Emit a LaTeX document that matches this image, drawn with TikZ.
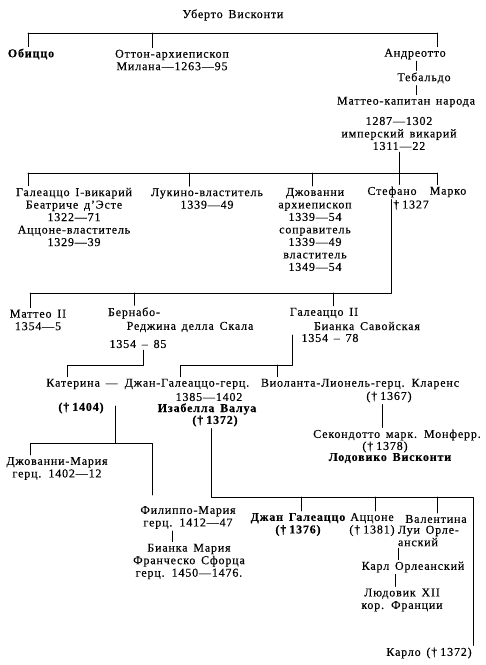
\documentclass[tikz,border=0pt]{standalone}
\usepackage{fontspec}
\setmainfont{Liberation Serif}[LetterSpace=7,WordSpace=1.5,FakeBold=0.3]
\newcommand{\died}{†\hspace{3pt}}
\tikzset{
  person/.style={inner sep=0pt,outer sep=2pt,align=center,font=\fontsize{12}{12.5}\selectfont},
  heir/.style={person,font=\fontsize{12}{12.5}\selectfont\bfseries},
}
\begin{document}
\begin{tikzpicture}[x=1pt,y=-1pt,line width=0.6pt,line cap=round,line join=round]
\useasboundingbox (0,0) rectangle (486,665);
\node[person] (uberto) at (233,15) {Уберто Висконти};
\node[heir] (obizzo) at (31,54) {Обиццо};
\node[person] (otton) at (172,60) {Оттон-архиепископ\\Милана—1263—95};
\node[person] (andreotto) at (415,54) {Андреотто};
\node[person] (tebaldo) at (424,78) {Тебальдо};
\node[person] (matteo) at (406,102) {Маттео-капитан народа};
\node[person] (matteod) at (399,133.5) {1287—1302\\имперский викарий\\1311—22};
\coordinate (b1l) at (28,33);
\coordinate (b1m) at (152,33);
\coordinate (b1r) at (437,33);
\draw (b1l) -- (b1r);
\foreach \b/\n in {b1l/obizzo,b1m/otton,b1r/andreotto}
  \draw (\b) -- (\b |- \n.north);
\draw ([xshift=-8pt]tebaldo.north) -- ([xshift=-8pt]tebaldo.north |- andreotto.south);
\draw ([xshift=-8pt]tebaldo.south) -- ([xshift=-8pt]tebaldo.south |- matteo.north);
\node[person] (galeazzo) at (74,217) {Галеаццо I-викарий\\Беатриче д'Эсте\\1322—71\\Аццоне-властитель\\1329—39};
\node[person] (luchino) at (207,198.5) {Лукино-властитель\\1339—49};
\node[person] (giovanni) at (315,229.5) {Джованни\\архиепископ\\1339—54\\соправитель\\1339—49\\властитель\\1349—54};
\node[person] (stefano) at (392,192) {Стефано};
\node[person] (stefanod) at (411,205) {\died1327};
\node[person] (marco) at (448,192) {Марко};
\coordinate (b2l) at (28,173);
\coordinate (b2lu) at (189,173);
\coordinate (b2g) at (312,173);
\coordinate (b2s) at (399,173);
\coordinate (b2r) at (437,173);
\draw (matteod.south -| b2s) -- (b2s);
\draw (b2l) -- (b2r);
\foreach \b/\n in {b2l/galeazzo,b2lu/luchino,b2g/giovanni,b2s/stefano,b2r/marco}
  \draw (\b) -- (\b |- \n.north);
\node[person] (matteo2) at (38,320) {Маттео II\\1354—5};
\node[person] (bernabo) at (134,313) {Бернабо-};
\node[person] (regina) at (190,327) {Реджина делла Скала};
\node[person] (bernabod) at (138,344) {1354 – 85};
\node[person] (galeazzo2) at (324,313) {Галеаццо II};
\node[person] (bianca) at (367,326) {Бианка Савойская};
\node[person] (galeazzo2d) at (330,338) {1354 – 78};
\coordinate (b3l) at (30,293);
\coordinate (b3b) at (134,293);
\coordinate (b3g) at (333,293);
\coordinate (b3r) at (391,293);
\draw (stefano.south -| b3r) -- (b3r) -- (b3l);
\foreach \b/\n in {b3l/matteo2,b3b/bernabo,b3g/galeazzo2}
  \draw (\b) -- (\b |- \n.north);
\node[person] (kat) at (82,384) {Катерина —};
\node[person] (gg) at (187,384) {Джан-Галеаццо-герц.};
\node[person] (ggd) at (209,397) {1385—1402};
\node[heir] (isabella) at (207,409) {Изабелла Валуа};
\node[heir] (isabellad) at (215,421) {(\died1372)};
\node[heir] (katd) at (81,408) {(\died1404)};
\node[person] (violanta) at (360,384) {Виоланта-Лионель-герц. Кларенс};
\node[person] (violantad) at (389,397) {(\died1367)};
\node[person] (secondotto) at (397,435) {Секондотто марк. Монферр.};
\node[person] (secondottod) at (385,447) {(\died1378)};
\node[heir] (lodovico) at (390,458) {Лодовико Висконти};
\coordinate (b4l) at (67,365);
\coordinate (b4r) at (143,365);
\coordinate (g2c) at (292,335);
\coordinate (b4m) at (292,365);
\coordinate (b4gg) at (180,365);
\coordinate (b4vi) at (277,365);
\draw (bernabod.south -| b4r) -- (b4r) -- (b4l) -- (b4l |- kat.north);
\draw (g2c) -- (b4m) -- (b4gg) -- (b4gg |- gg.north);
\draw (b4vi) -- (b4vi |- violanta.north);
\draw ([xshift=-7pt]violantad.south) -- ([xshift=-7pt]violantad.south |- secondotto.north);
\node[person] (giovmaria) at (57,468.5) {Джованни-Мария\\герц. 1402—12};
\coordinate (kg) at (115,406);
\coordinate (b5m) at (115,443);
\coordinate (b5l) at (30,443);
\coordinate (b5r) at (152,443);
\coordinate (fm) at (152,495);
\draw (kg) -- (b5m);
\draw (b5l |- giovmaria.north) -- (b5l) -- (b5r) -- (fm);
\node[person] (filippo) at (188,517.5) {Филиппо-Мария\\герц. 1412—47};
\node[person] (biancam) at (189,561.5) {Бианка Мария\\Франческо Сфорца\\герц. 1450—1476.};
\node[heir] (giang) at (298,524.5) {Джан Галеаццо\\(\died1376)};
\node[person] (azzone) at (372,524.5) {Аццоне\\(\died1381)};
\node[person] (valentina) at (436,519) {Валентина};
\node[person,align=left,anchor=west] (louis) at (396,536) {Луи Орле-\\анский};
\node[person] (karl) at (413,567) {Карл Орлеанский};
\node[person] (ludovic) at (402,600) {Людовик XII\\кор. Франции};
\node[person] (carlo) at (429,653) {Карло (\died1372)};
\coordinate (b6l) at (211,497);
\coordinate (b6j) at (301,497);
\coordinate (b6a) at (375,497);
\coordinate (b6v) at (437,497);
\coordinate (b6r) at (473,497);
\draw (isabellad.south -| b6l) -- (b6l) -- (b6r) -- (b6r |- carlo.north);
\foreach \b/\n in {b6j/giang,b6a/azzone,b6v/valentina}
  \draw (\b) -- (\b |- \n.north);
\draw ([xshift=-16pt]filippo.south) -- ([xshift=-16pt]filippo.south |- biancam.north);
\draw ([xshift=2pt]louis.south west) -- ([xshift=2pt]louis.south west |- karl.north);
\draw ([xshift=-18pt]karl.south) -- ([xshift=-18pt]karl.south |- ludovic.north);
\end{tikzpicture}
\end{document}
